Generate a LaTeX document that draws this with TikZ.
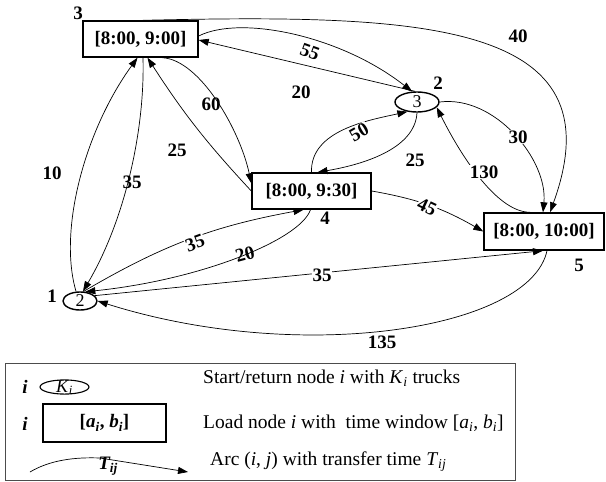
\documentclass[tikz,border=0pt]{standalone}
\usepackage{fontspec}
\setmainfont{Liberation Serif}
\usetikzlibrary{shapes.geometric,arrows.meta}
\begin{document}
\begin{tikzpicture}[x=1pt,y=-1pt,
    box/.style={draw,line width=1.4pt,inner sep=0pt,minimum height=36pt,font=\fontsize{19}{22}\selectfont\bfseries},
    depot/.style={draw,ellipse,line width=1.4pt,inner sep=0pt,font=\fontsize{18}{20}\selectfont},
    num/.style={inner sep=0.5pt,font=\fontsize{19}{22}\selectfont\bfseries},
    wt/.style={num,fill=white},
    arc/.style={line width=0.7pt,-{Triangle[length=10pt,width=7pt]}},
    txt/.style={anchor=west,inner sep=0pt,font=\fontsize{19.5}{22}\selectfont}]
    \useasboundingbox (0,0) rectangle (606,482);
    \node [box,minimum width=115pt] (n3) at (140.5,39) {[8:00, 9:00]};
    \node [box,minimum width=119pt] (n4) at (311.5,191) {[8:00, 9:30]};
    \node [box,minimum width=120pt,minimum height=37pt] (n5) at (544,231.5) {[8:00, 10:00]};
    \node [depot,minimum width=44pt,minimum height=20pt] (n2) at (417,102) {3};
    \node [depot,minimum width=34pt,minimum height=18pt] (n1) at (80,301) {2};
    \node [num] (k3) at (78,13) {3};
    \node [num] (k2) at (438,83) {2};
    \node [num] (k4) at (325,218) {4};
    \node [num] (k5) at (579,265) {5};
    \node [num] (k1) at (52,296) {1};
    \draw [arc] ([xshift=2.5pt]n3.north) .. controls (420,14) and (620,20) .. ([xshift=6pt]n5.north);
    \draw [arc] ([yshift=3pt]n3.east) .. controls (240,15) and (340,35) .. (n2.115);
    \draw [arc] (n2.100) -- ([yshift=-1pt]n3.east);
    \draw [arc] ([xshift=22pt]n3.south) .. controls (200,60) and (240,130) .. ([yshift=-11pt]n4.north west);
    \draw [arc] (n4.west) to[bend left=5] ([xshift=7pt]n3.south);
    \draw [arc] ([xshift=-4pt]n1.north) .. controls (58,230) and (85,130) .. ([xshift=-3pt]n3.south);
    \draw [arc] ([xshift=2.5pt]n3.south) .. controls (145,130) and (125,220) .. ([xshift=3pt]n1.north);
    \draw [arc] (n1.70) to[bend left=10] ([xshift=-8pt]n4.south);
    \draw [arc] ([xshift=-1pt]n4.south) .. controls (300,240) and (200,280) .. (n1.60);
    \draw [arc] (n1.20) -- ([xshift=-1pt]n5.south);
    \draw [arc] ([xshift=3pt]n5.south) .. controls (530,330) and (300,365) .. (n1.east);
    \draw [arc] (n4.north) .. controls (310,130) and (370,120) .. (n2.225);
    \draw [arc] (n2.south) .. controls (415,150) and (360,165) .. ([xshift=6pt]n4.north);
    \draw [arc] (n2.east) .. controls (495,95) and (548,160) .. ([xshift=-1pt]n5.north);
    \draw [arc] ([xshift=-14pt]n5.north) .. controls (495,212) and (458,150) .. (n2.-15);
    \draw [arc] (n4.east) to[bend left=10] (n5.west);
    \node [num] (w40) at (518,36) {40};
    \node [num,rotate=-20] (w55) at (310,52) {55};
    \node [num] (w20a) at (301,92) {20};
    \node [num] (w60) at (211,104) {60};
    \node [num] (w25a) at (177,150) {25};
    \node [num] (w10) at (52,173) {10};
    \node [num] (w35a) at (132,182) {35};
    \node [wt,rotate=30] (w50) at (359,132) {50};
    \node [num] (w25b) at (415,160) {25};
    \node [wt] (w30) at (518,137) {30};
    \node [wt] (w130) at (484,172) {130};
    \node [wt,rotate=-25] (w45) at (427,207) {45};
    \node [wt,rotate=20] (w35b) at (195,243) {35};
    \node [num,rotate=15] (w20b) at (245,254) {20};
    \node [wt] (w35c) at (322,275) {35};
    \node [num] (w135) at (382,342) {135};
    \draw [black!70,line width=0.8pt] (5,363) rectangle (515,480);
    \node [num,font=\fontsize{19}{22}\selectfont\bfseries\itshape] (li1) at (25,387) {i};
    \node [depot,line width=1.1pt,minimum width=49pt,minimum height=14pt,text height=10pt,text depth=0pt] (lk) at (64.5,387) {\textit{K}\textsubscript{\textit{i}}};
    \node [txt] (lt1) at (203,378) {Start/return node \textit{i} with \textit{K}\textsubscript{\textit{i}} trucks};
    \node [num,font=\fontsize{19}{22}\selectfont\bfseries\itshape] (li2) at (25,424) {i};
    \node [box,minimum width=123pt,minimum height=38pt] (lab) at (104.5,423) {[\textit{a}\textsubscript{\textit{i}}, \textit{b}\textsubscript{\textit{i}}]};
    \node [txt] (lt2) at (203,423) {Load node \textit{i} with\ \ time window [\textit{a}\textsubscript{\textit{i}}, \textit{b}\textsubscript{\textit{i}}]};
    \coordinate (lga) at (30,472);
    \coordinate (lgm) at (100,458);
    \coordinate (lgb) at (188,472);
    \draw [arc] (lga) .. controls (50,460) and (75,457) .. (lgm) -- (lgb);
    \node [num,font=\fontsize{19}{22}\selectfont\bfseries\itshape] (lt) at (108,466) {T\textsubscript{ij}};
    \node [txt] (lt3) at (210,462) {Arc (\textit{i}, \textit{j}) with transfer time \textit{T}\textsubscript{\textit{ij}}};
\end{tikzpicture}
\end{document}
